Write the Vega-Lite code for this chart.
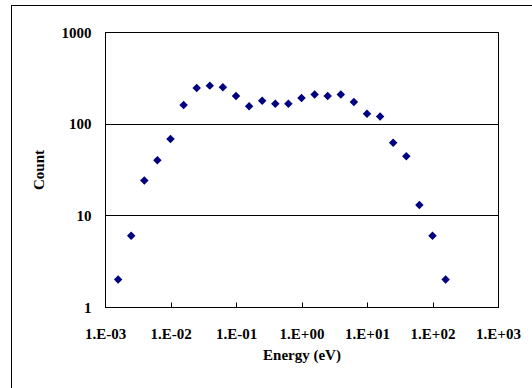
{
  "$schema": "https://vega.github.io/schema/vega-lite/v6.json",
  "width": 393,
  "height": 275,
  "autosize": {"type": "none"},
  "padding": {"left": 105, "top": 32, "right": 34, "bottom": 81},
  "background": "white",
  "config": {
    "view": {"stroke": "black", "strokeWidth": 1},
    "font": "Liberation Serif",
    "axis": {
      "labelFont": "Liberation Serif",
      "labelFontWeight": "bold",
      "labelFontSize": 15,
      "labelColor": "black",
      "titleFont": "Liberation Serif",
      "titleFontWeight": "bold",
      "titleFontSize": 15,
      "titleColor": "black",
      "domainColor": "black",
      "domainWidth": 1,
      "tickColor": "black",
      "tickWidth": 1,
      "gridColor": "black",
      "gridOpacity": 1,
      "gridWidth": 1,
      "labelFlush": false,
      "labelOverlap": false
    }
  },
  "layer": [
    {
      "data": {"values": [{"part": "chart area left edge"}]},
      "mark": {"type": "rule", "color": "black", "strokeWidth": 1, "clip": false},
      "encoding": {"x": {"value": -93.5}, "y": {"value": -27}, "y2": {"value": 400}}
    },
    {
      "data": {"values": [{"part": "chart area top edge"}]},
      "mark": {"type": "rule", "color": "black", "strokeWidth": 1, "clip": false},
      "encoding": {"x": {"value": -94}, "x2": {"value": 500}, "y": {"value": -26.5}}
    },
    {
      "data": {
        "values": [
          {"energy": 0.001585, "count": 2},
          {"energy": 0.002512, "count": 6},
          {"energy": 0.003981, "count": 24},
          {"energy": 0.00631, "count": 40},
          {"energy": 0.01, "count": 68},
          {"energy": 0.01585, "count": 160},
          {"energy": 0.02512, "count": 245},
          {"energy": 0.03981, "count": 260},
          {"energy": 0.0631, "count": 250},
          {"energy": 0.1, "count": 200},
          {"energy": 0.1585, "count": 155},
          {"energy": 0.2512, "count": 178},
          {"energy": 0.3981, "count": 165},
          {"energy": 0.631, "count": 165},
          {"energy": 1, "count": 190},
          {"energy": 1.585, "count": 208},
          {"energy": 2.512, "count": 200},
          {"energy": 3.981, "count": 208},
          {"energy": 6.31, "count": 172},
          {"energy": 10, "count": 128},
          {"energy": 15.85, "count": 120},
          {"energy": 25.12, "count": 62},
          {"energy": 39.81, "count": 44},
          {"energy": 63.1, "count": 13},
          {"energy": 100, "count": 6},
          {"energy": 158.5, "count": 2}
        ]
      },
      "mark": {"type": "point", "shape": "diamond", "filled": true, "color": "#000080", "opacity": 1, "size": 72},
      "encoding": {
        "x": {
          "field": "energy",
          "type": "quantitative",
          "scale": {"type": "log", "domain": [0.001, 1000]},
          "axis": {
            "title": "Energy (eV)",
            "values": [0.001, 0.01, 0.1, 1, 10, 100, 1000],
            "labelExpr": "'1.E' + (datum.value < 1 ? '-' : '+') + '0' + abs(round(log(datum.value) / LN10))",
            "grid": false,
            "tickSize": -5,
            "labelPadding": 24,
            "titlePadding": 6
          }
        },
        "y": {
          "field": "count",
          "type": "quantitative",
          "scale": {"type": "log", "domain": [1, 1000]},
          "axis": {
            "title": "Count",
            "values": [1, 10, 100, 1000],
            "format": "d",
            "grid": true,
            "ticks": false,
            "labelPadding": 14,
            "titlePadding": 15
          }
        }
      }
    }
  ]
}
